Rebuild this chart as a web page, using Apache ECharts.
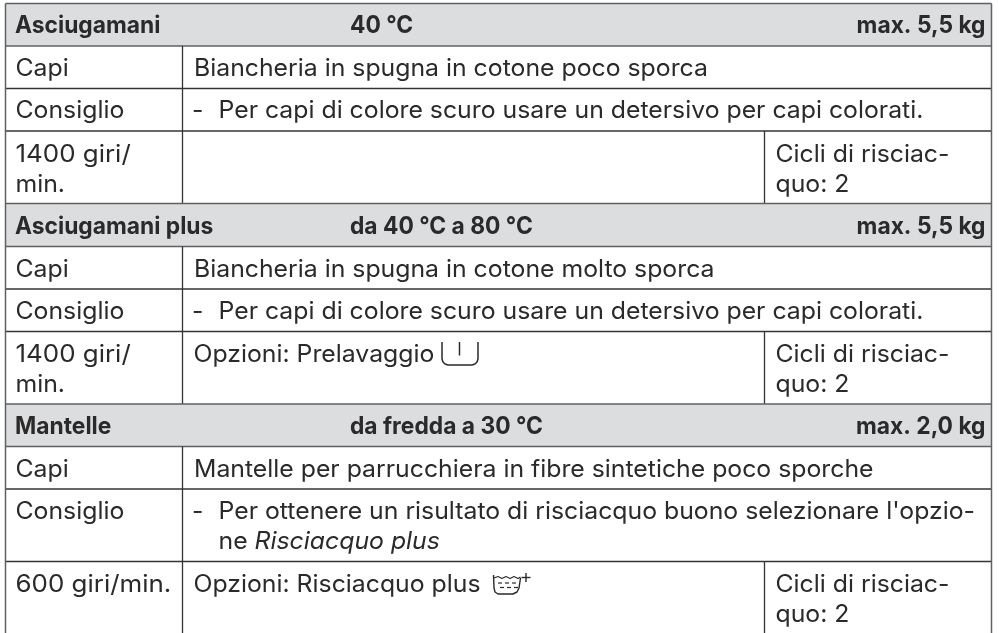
<!DOCTYPE html>
<html>
<head>
<meta charset="utf-8">
<title>Programmi</title>
<style>html,body{margin:0;padding:0;background:#fff}#main{width:999px;height:633px}</style>
<script src="https://cdn.jsdelivr.net/npm/echarts@6/dist/echarts.min.js"></script>
</head>
<body>
<div id="main"></div>
<script>
// table content
var programs = ['Asciugamani', 'Asciugamani plus', 'Mantelle'];
var temperatures = ['40 °C', 'da 40 °C a 80 °C', 'da fredda a 30 °C'];
var loads = ['max. 5,5 kg', 'max. 5,5 kg', 'max. 2,0 kg'];
var capi = ['Biancheria in spugna in cotone poco sporca', 'Biancheria in spugna in cotone molto sporca', 'Mantelle per parrucchiera in fibre sintetiche poco sporche'];
var consigli = [
  ['Per capi di colore scuro usare un detersivo per capi colorati.'],
  ['Per capi di colore scuro usare un detersivo per capi colorati.'],
  ["Per ottenere un risultato di risciacquo buono selezionare l'opzio-", 'ne {i|Risciacquo plus}']
];
var speeds = [['1400 giri/', 'min.'], ['1400 giri/', 'min.'], ['600 giri/min.']];
var options = ['', 'Opzioni: Prelavaggio', 'Opzioni: Risciacquo plus'];
var cycles = ['Cicli di risciac-', 'quo: 2'];
var rowLabels = ['Capi', 'Consiglio'];

// layout
var left = 5.5, right = 991.5, col1 = 182.5, col2 = 764.5, bottom = 633;
var blocks = [
  { top: 3.5, head: 46, capi: 88.5, cons: 131, end: 203.5 },
  { top: 203.5, head: 246.5, capi: 289, cons: 331.5, end: 404 },
  { top: 404, head: 446.5, capi: 489, cons: 561.5, end: bottom }
];
var FONT = 'Inter', INK = '#2b2a2b', EDGE = '#5f6062', DARK = '#333436', BAND = '#dcddde';
var SIZE = 24, MID = 0.35, LEAD = 30;

var els = [];

function text(x, base, str, opt) {
  opt = opt || {};
  els.push({
    type: 'text', z: 5, x: x, y: base - SIZE * MID,
    scaleX: opt.scale || (opt.bold ? 0.95 : 1.033),
    style: {
      text: str, fill: INK, align: opt.align || 'left', verticalAlign: 'middle',
      font: (opt.bold ? '700 ' : '400 ') + SIZE + 'px ' + FONT,
      rich: { i: { fontStyle: 'italic', fontSize: SIZE, fontFamily: FONT, fill: INK } }
    }
  });
}

function line(x1, y1, x2, y2, color, w) {
  els.push({ type: 'line', z: 3, shape: { x1: x1, y1: y1, x2: x2, y2: y2 }, style: { stroke: color, lineWidth: w } });
}

function stroke(points, w) {
  els.push({ type: 'polyline', z: 4, shape: { points: points }, style: { fill: null, stroke: INK, lineWidth: w, lineJoin: 'round' } });
}

blocks.forEach(function (b, i) {
  els.push({ type: 'rect', z: 1, shape: { x: left, y: b.top, width: right - left, height: b.head - b.top }, style: { fill: BAND } });
  // rules
  line(left, b.top, right, b.top, EDGE, 1.5);
  line(left, b.head, right, b.head, EDGE, 1.5);
  line(left, b.capi, right, b.capi, DARK, 1.3);
  line(left, b.cons, right, b.cons, DARK, 1.3);
  line(col1, b.head, col1, b.end, DARK, 1.3);
  line(col2, b.cons, col2, b.end, DARK, 1.3);

  // header
  var hb = b.head - 11.7;
  text(15, hb, programs[i], { bold: true });
  text(350, hb, temperatures[i], { bold: true });
  text(985.5, hb, loads[i], { bold: true, align: 'right' });
  // rows
  text(15.5, b.capi - 11.3, rowLabels[0]);
  text(194, b.capi - 11.3, capi[i]);
  var cb = b.capi + 31;
  text(15.5, cb, rowLabels[1]);
  text(192, cb, '-');
  consigli[i].forEach(function (s, k) { text(218.5, cb + k * LEAD, s); });
  var base = b.cons + 32;
  // the digits are wider in the original face
  speeds[i].forEach(function (s, k) { text(15.5, base + k * LEAD, s, { scale: /\d/.test(s) ? 1.08 : 1.033 }); });
  if (options[i]) text(193.5, base, options[i]);
  cycles.forEach(function (s, k) { text(775.5, base + k * LEAD, s); });
});

// outer border
line(left, blocks[0].top, left, bottom, EDGE, 1.5);
line(right, blocks[0].top, right, bottom, EDGE, 1.5);

// prewash tub symbol
stroke([[442, 342], [442, 359], [443, 362], [445, 364], [448, 365], [472, 365], [475, 364], [477, 362], [478, 359], [478, 342]], 1.5);
stroke([[459.5, 342], [459.5, 355.5]], 1.5);
// rinse plus tub symbol
stroke([[493.5, 575], [494, 588], [495, 592], [498, 594], [513, 594], [517, 592], [519, 588], [520.5, 578]], 1.4);
stroke([[494, 578], [498, 576.5], [502, 578.5], [506, 576.5], [510, 578.5], [514, 576.5], [518, 578.5], [520.5, 577]], 1.1);
stroke([[498, 583], [502, 583]], 1.2);
stroke([[505, 583], [509, 583]], 1.2);
stroke([[512, 583], [516, 583]], 1.2);
stroke([[500, 587.5], [504, 587.5]], 1.2);
stroke([[507, 587.5], [511, 587.5]], 1.2);
stroke([[514, 587.5], [518, 587.5]], 1.2);
stroke([[521.5, 577.5], [530.5, 577.5]], 1.4);
stroke([[526, 573], [526, 582]], 1.4);

var chart = echarts.init(document.getElementById('main'), null, { renderer: 'canvas' });
chart.setOption({ animation: false, backgroundColor: '#fff', graphic: { elements: els } });
</script>
</body>
</html>
